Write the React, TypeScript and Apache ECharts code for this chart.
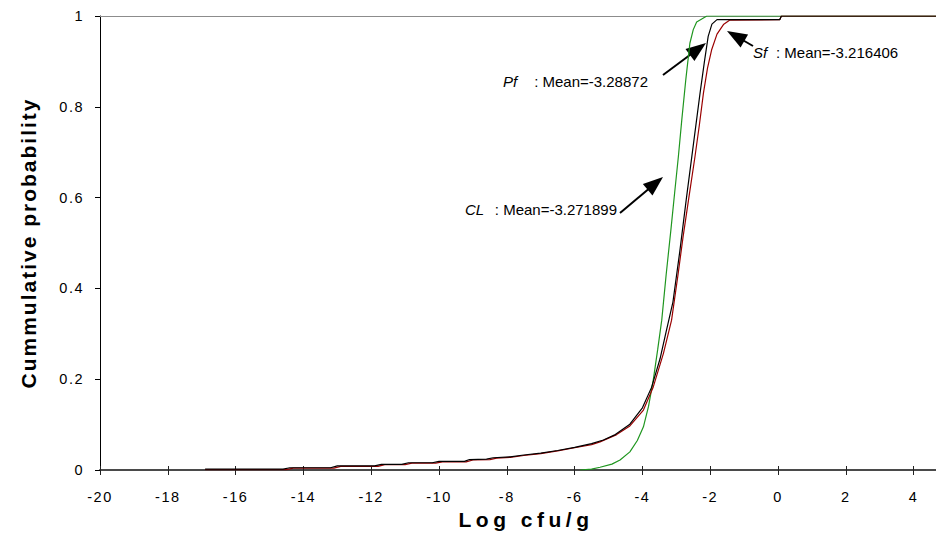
import React, { useEffect, useRef } from "react";
import * as echarts from "echarts";

const X_MIN = -20;
const X_MAX = 4.66;
const X_INTERVAL = 2;
const Y_MIN = 0;
const Y_MAX = 1;
const Y_INTERVAL = 0.2;

const X_TITLE = "Log cfu/g";
const Y_TITLE = "Cummulative probability";

// CL (green)
const clPoints: [number, number][] = [
  [-5.84, 0], [-5.5, 0.002], [-5.25, 0.006], [-4.9, 0.013], [-4.66, 0.022],
  [-4.37, 0.04], [-4.15, 0.065], [-3.97, 0.095], [-3.82, 0.14], [-3.68, 0.198],
  [-3.55, 0.265], [-3.43, 0.33], [-3.3, 0.43], [-3.16, 0.529], [-3.05, 0.61],
  [-2.94, 0.69], [-2.84, 0.77], [-2.72, 0.86], [-2.6, 0.94], [-2.5, 0.97],
  [-2.4, 0.987], [-2.1, 1.0], [4.66, 1.0],
];

// Pf (black)
const pfPoints: [number, number][] = [
  [-16.9, 0.002], [-14.6, 0.002], [-14.4, 0.005], [-13.2, 0.005], [-13.0, 0.009],
  [-11.9, 0.009], [-11.7, 0.0125], [-11.1, 0.0125], [-10.9, 0.016], [-10.2, 0.016],
  [-10.0, 0.019], [-9.25, 0.019], [-9.1, 0.023], [-8.6, 0.024], [-8.4, 0.027],
  [-7.9, 0.029], [-7.5, 0.033], [-7.0, 0.037], [-6.5, 0.043], [-6.0, 0.05],
  [-5.5, 0.058], [-5.15, 0.066], [-4.8, 0.078], [-4.37, 0.101], [-4.0, 0.137],
  [-3.73, 0.182], [-3.48, 0.245], [-3.3, 0.305], [-3.1, 0.37], [-2.9, 0.48],
  [-2.7, 0.6], [-2.5, 0.715], [-2.3, 0.83], [-2.17, 0.9], [-2.06, 0.955],
  [-1.95, 0.982], [-1.8, 0.992], [0.05, 0.992], [0.1, 1.0], [4.66, 1.0],
];

// Sf (red)
const sfPoints: [number, number][] = [
  [-16.9, 0.001], [-14.5, 0.001], [-14.3, 0.004], [-13.1, 0.004], [-12.9, 0.008],
  [-11.8, 0.008], [-11.6, 0.012], [-11.0, 0.012], [-10.8, 0.015], [-10.1, 0.015],
  [-9.9, 0.018], [-9.2, 0.018], [-9.0, 0.022], [-8.5, 0.023], [-8.3, 0.026],
  [-7.9, 0.028], [-7.5, 0.032], [-7.0, 0.036], [-6.5, 0.042], [-6.0, 0.049],
  [-5.5, 0.056], [-5.25, 0.062], [-4.76, 0.078], [-4.37, 0.097], [-3.97, 0.132],
  [-3.68, 0.183], [-3.38, 0.257], [-3.14, 0.33], [-2.95, 0.43], [-2.8, 0.514],
  [-2.63, 0.6], [-2.45, 0.69], [-2.32, 0.76], [-2.2, 0.83], [-2.08, 0.885],
  [-1.96, 0.925], [-1.8, 0.96], [-1.6, 0.982], [-1.42, 0.991], [0.05, 0.992],
  [0.1, 1.0], [4.66, 1.0],
];

const annotations = [
  { name: "CL", mean: ": Mean=-3.271899" },
  { name: "Pf", mean: ": Mean=-3.28872" },
  { name: "Sf", mean: ": Mean=-3.216406" },
];

const FONT = '"Liberation Sans", Arial, Helvetica, sans-serif';

function arrow(tail: [number, number], tip: [number, number]) {
  const dx = tip[0] - tail[0];
  const dy = tip[1] - tail[1];
  const len = Math.sqrt(dx * dx + dy * dy);
  const ux = dx / len;
  const uy = dy / len;
  const headLen = 20;
  const halfW = 7.5;
  const bx = tip[0] - ux * headLen;
  const by = tip[1] - uy * headLen;
  return [
    {
      type: "line",
      shape: { x1: tail[0], y1: tail[1], x2: bx + ux * 2, y2: by + uy * 2 },
      style: { stroke: "#000", lineWidth: 2 },
      silent: true,
    },
    {
      type: "polygon",
      shape: {
        points: [
          [tip[0], tip[1]],
          [bx - uy * halfW, by + ux * halfW],
          [bx + uy * halfW, by - ux * halfW],
        ],
      },
      style: { fill: "#000" },
      silent: true,
    },
  ];
}

export default function App() {
  const ref = useRef<HTMLDivElement>(null);

  useEffect(() => {
    if (!ref.current) return;
    const el = ref.current;
    const chart = echarts.init(el, undefined, { renderer: "svg" });

    const tickFont = { fontSize: 14.5, color: "#000", fontFamily: FONT };

    const option: any = {
      animation: false,
      backgroundColor: "#fff",
      grid: { left: 100, right: 0, top: 16, bottom: 82, containLabel: false },
      xAxis: [
        {
          type: "value",
          min: X_MIN,
          max: X_MAX,
          interval: X_INTERVAL,
          position: "bottom",
          axisLine: { onZero: false, lineStyle: { color: "#4a4a4a", width: 2 } },
          axisTick: { show: true, length: 5, lineStyle: { color: "#222", width: 1 } },
          axisLabel: {
            ...tickFont,
            margin: 19,
            showMaxLabel: false,
            formatter: (v: number) => (Number.isInteger(v) ? String(v) : ""),
          },
          splitLine: { show: false },
          name: X_TITLE,
          nameLocation: "middle",
          nameGap: 34,
          nameTextStyle: {
            fontSize: 21,
            fontWeight: "bold",
            color: "#000",
            fontFamily: FONT,
            padding: [0, 0, 0, 16],
          },
        },
        {
          type: "value",
          min: X_MIN,
          max: X_MAX,
          interval: X_INTERVAL,
          position: "bottom",
          axisLine: { show: false, onZero: false },
          axisTick: { show: true, inside: true, length: 4, lineStyle: { color: "#222", width: 1 } },
          axisLabel: { show: false },
          splitLine: { show: false },
        },
        {
          type: "value",
          min: X_MIN,
          max: X_MAX,
          position: "top",
          axisLine: { show: true, onZero: false, lineStyle: { color: "#8c8c8c", width: 1 } },
          axisTick: { show: false },
          axisLabel: { show: false },
          splitLine: { show: false },
        },
      ],
      yAxis: {
        type: "value",
        min: Y_MIN,
        max: Y_MAX,
        interval: Y_INTERVAL,
        axisLine: { show: true, onZero: false, lineStyle: { color: "#000", width: 1 } },
        axisTick: { show: true, length: 5, lineStyle: { color: "#000", width: 1 } },
        axisLabel: {
          ...tickFont,
          margin: 16,
          formatter: (v: number) => String(Number(v.toFixed(1))),
        },
        splitLine: { show: false },
        name: Y_TITLE,
        nameLocation: "middle",
        nameGap: 61,
        nameTextStyle: { fontSize: 21, fontWeight: "bold", color: "#000", fontFamily: FONT },
      },
      series: [
        {
          name: "CL",
          type: "line",
          xAxisIndex: 0,
          data: clPoints,
          showSymbol: false,
          symbol: "none",
          lineStyle: { color: "#1f961f", width: 1.2 },
          silent: true,
          z: 2,
        },
        {
          name: "Sf",
          type: "line",
          xAxisIndex: 0,
          data: sfPoints,
          showSymbol: false,
          symbol: "none",
          lineStyle: { color: "#9a0000", width: 1.2 },
          silent: true,
          z: 3,
        },
        {
          name: "Pf",
          type: "line",
          xAxisIndex: 0,
          data: pfPoints,
          showSymbol: false,
          symbol: "none",
          lineStyle: { color: "#000", width: 1.2 },
          silent: true,
          z: 4,
        },
      ],
      graphic: [
        // CL label
        {
          type: "text",
          x: 465,
          y: 209,
          style: { text: annotations[0].name, font: `italic 15px ${FONT}`, fill: "#000", verticalAlign: "middle", align: "left" },
        },
        {
          type: "text",
          x: 617,
          y: 209,
          style: { text: annotations[0].mean, font: `15px ${FONT}`, fill: "#000", verticalAlign: "middle", align: "right" },
        },
        // Pf label
        {
          type: "text",
          x: 503,
          y: 81,
          style: { text: annotations[1].name, font: `italic 15px ${FONT}`, fill: "#000", verticalAlign: "middle", align: "left" },
        },
        {
          type: "text",
          x: 648,
          y: 81,
          style: { text: annotations[1].mean, font: `15px ${FONT}`, fill: "#000", verticalAlign: "middle", align: "right" },
        },
        // Sf label
        {
          type: "text",
          x: 753,
          y: 52,
          style: { text: annotations[2].name, font: `italic 15px ${FONT}`, fill: "#000", verticalAlign: "middle", align: "left" },
        },
        {
          type: "text",
          x: 776,
          y: 52,
          style: { text: annotations[2].mean, font: `15px ${FONT}`, fill: "#000", verticalAlign: "middle", align: "left" },
        },
        ...arrow([620, 213], [663, 177]),
        ...arrow([663, 75], [706, 43]),
        ...arrow([753, 46], [727, 31]),
      ],
    };

    chart.setOption(option);

    const applySpacing = () => {
      el.querySelectorAll("text").forEach((t) => {
        const s = (t.textContent || "").trim();
        const st = (t as unknown as HTMLElement).style;
        if (s === Y_TITLE) st.letterSpacing = "2px";
        else if (s === X_TITLE) st.letterSpacing = "4.5px";
        else if (/^-?\d+(\.\d+)?$/.test(s)) st.letterSpacing = "1.5px";
      });
    };
    applySpacing();
    chart.on("finished", applySpacing);

    return () => {
      chart.dispose();
    };
  }, []);

  return (
    <div
      ref={ref}
      style={{ position: "absolute", left: 0, top: 0, width: 936, height: 552, background: "#fff" }}
    />
  );
}
